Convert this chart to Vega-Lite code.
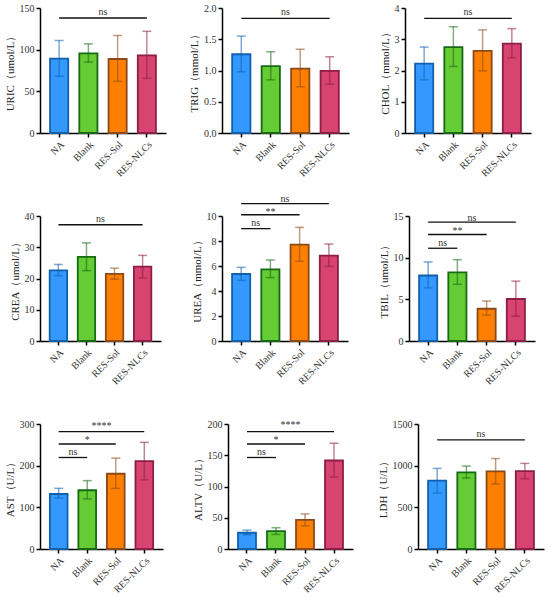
{
  "$schema": "https://vega.github.io/schema/vega-lite/v6.json",
  "padding": {"left": 4, "top": 3, "right": 5, "bottom": 5},
  "datasets": {
    "bars": [
      {"test": "URIC", "group": "NA", "mean": 89.2, "lo": 68, "hi": 111},
      {"test": "URIC", "group": "Blank", "mean": 95.5, "lo": 85, "hi": 107},
      {"test": "URIC", "group": "RES-Sol", "mean": 88.8, "lo": 62, "hi": 117},
      {"test": "URIC", "group": "RES-NLCs", "mean": 93.2, "lo": 65.6, "hi": 122},
      {"test": "TRIG", "group": "NA", "mean": 1.26, "lo": 0.98, "hi": 1.55},
      {"test": "TRIG", "group": "Blank", "mean": 1.07, "lo": 0.85, "hi": 1.3},
      {"test": "TRIG", "group": "RES-Sol", "mean": 1.03, "lo": 0.74, "hi": 1.34},
      {"test": "TRIG", "group": "RES-NLCs", "mean": 0.995, "lo": 0.78, "hi": 1.22},
      {"test": "CHOL", "group": "NA", "mean": 2.22, "lo": 1.7, "hi": 2.75},
      {"test": "CHOL", "group": "Blank", "mean": 2.75, "lo": 2.13, "hi": 3.4},
      {"test": "CHOL", "group": "RES-Sol", "mean": 2.63, "lo": 1.99, "hi": 3.3},
      {"test": "CHOL", "group": "RES-NLCs", "mean": 2.86, "lo": 2.4, "hi": 3.34},
      {"test": "CREA", "group": "NA", "mean": 22.6, "lo": 20.9, "hi": 24.5},
      {"test": "CREA", "group": "Blank", "mean": 26.9, "lo": 22.5, "hi": 31.4},
      {"test": "CREA", "group": "RES-Sol", "mean": 21.5, "lo": 19.8, "hi": 23.3},
      {"test": "CREA", "group": "RES-NLCs", "mean": 23.8, "lo": 20.2, "hi": 27.4},
      {"test": "UREA", "group": "NA", "mean": 5.36, "lo": 4.85, "hi": 5.89},
      {"test": "UREA", "group": "Blank", "mean": 5.73, "lo": 5.07, "hi": 6.48},
      {"test": "UREA", "group": "RES-Sol", "mean": 7.71, "lo": 6.37, "hi": 9.09},
      {"test": "UREA", "group": "RES-NLCs", "mean": 6.83, "lo": 5.97, "hi": 7.76},
      {"test": "TBIL", "group": "NA", "mean": 7.86, "lo": 6.37, "hi": 9.48},
      {"test": "TBIL", "group": "Blank", "mean": 8.23, "lo": 6.81, "hi": 9.76},
      {"test": "TBIL", "group": "RES-Sol", "mean": 3.87, "lo": 3.1, "hi": 4.8},
      {"test": "TBIL", "group": "RES-NLCs", "mean": 5.04, "lo": 2.98, "hi": 7.18},
      {"test": "AST", "group": "NA", "mean": 132, "lo": 122.5, "hi": 145.6},
      {"test": "AST", "group": "Blank", "mean": 141, "lo": 120, "hi": 164},
      {"test": "AST", "group": "RES-Sol", "mean": 180.6, "lo": 145.6, "hi": 218},
      {"test": "AST", "group": "RES-NLCs", "mean": 210.8, "lo": 166, "hi": 256},
      {"test": "ALTV", "group": "NA", "mean": 26, "lo": 22.8, "hi": 30.2},
      {"test": "ALTV", "group": "Blank", "mean": 28.6, "lo": 23.3, "hi": 34},
      {"test": "ALTV", "group": "RES-Sol", "mean": 46.7, "lo": 37.1, "hi": 56.2},
      {"test": "ALTV", "group": "RES-NLCs", "mean": 141.6, "lo": 115, "hi": 169.2},
      {"test": "LDH", "group": "NA", "mean": 820, "lo": 672, "hi": 967},
      {"test": "LDH", "group": "Blank", "mean": 919, "lo": 852, "hi": 995},
      {"test": "LDH", "group": "RES-Sol", "mean": 931, "lo": 780, "hi": 1086},
      {"test": "LDH", "group": "RES-NLCs", "mean": 935, "lo": 844, "hi": 1027}
    ],
    "sig": [
      {"test": "URIC", "a": "NA", "b": "RES-NLCs", "y": 138, "ty": 145, "label": "ns", "tx": "Blank", "gap": true},
      {"test": "TRIG", "a": "NA", "b": "RES-NLCs", "y": 1.834, "ty": 1.93, "label": "ns", "tx": "Blank", "gap": true},
      {"test": "CHOL", "a": "NA", "b": "RES-NLCs", "y": 3.67, "ty": 3.86, "label": "ns", "tx": "Blank", "gap": true},
      {"test": "CREA", "a": "NA", "b": "RES-NLCs", "y": 37.2, "ty": 38.9, "label": "ns", "tx": "Blank", "gap": true},
      {"test": "UREA", "a": "NA", "b": "Blank", "y": 8.99, "ty": 9.47, "label": "ns", "tx": "NA", "gap": true},
      {"test": "UREA", "a": "NA", "b": "RES-Sol", "y": 10.1, "ty": 10.29, "label": "**", "tx": "Blank", "gap": false},
      {"test": "UREA", "a": "NA", "b": "RES-NLCs", "y": 10.99, "ty": 11.33, "label": "ns", "tx": "Blank", "gap": true},
      {"test": "TBIL", "a": "NA", "b": "Blank", "y": 11.13, "ty": 11.81, "label": "ns", "tx": "NA", "gap": true},
      {"test": "TBIL", "a": "NA", "b": "RES-Sol", "y": 12.78, "ty": 13.2, "label": "**", "tx": "Blank", "gap": false},
      {"test": "TBIL", "a": "NA", "b": "RES-NLCs", "y": 14.27, "ty": 14.8, "label": "ns", "tx": "Blank", "gap": true},
      {"test": "AST", "a": "NA", "b": "Blank", "y": 219.6, "ty": 233, "label": "ns", "tx": "NA", "gap": true},
      {"test": "AST", "a": "NA", "b": "RES-Sol", "y": 252, "ty": 261.7, "label": "*", "tx": "Blank", "gap": false},
      {"test": "AST", "a": "NA", "b": "RES-NLCs", "y": 281.5, "ty": 296, "label": "****", "tx": "Blank", "gap": true},
      {"test": "ALTV", "a": "NA", "b": "Blank", "y": 146.4, "ty": 156, "label": "ns", "tx": "NA", "gap": true},
      {"test": "ALTV", "a": "NA", "b": "RES-Sol", "y": 168, "ty": 174, "label": "*", "tx": "Blank", "gap": false},
      {"test": "ALTV", "a": "NA", "b": "RES-NLCs", "y": 187.8, "ty": 197.9, "label": "****", "tx": "Blank", "gap": true},
      {"test": "LDH", "a": "NA", "b": "RES-NLCs", "y": 1309, "ty": 1385, "label": "ns", "tx": "Blank", "gap": true}
    ]
  },
  "bounds": "flush",
  "spacing": 208,
  "vconcat": [
    {
      "bounds": "flush",
      "spacing": 56,
      "hconcat": [
        {
          "width": 126, "height": 125,
          "layer": [
            {"data": {"name": "bars"}, "transform": [{"filter": "datum.test == 'URIC'"}], "mark": {"type": "bar", "strokeWidth": 1.8},
             "encoding": {
               "x": {"field": "group", "type": "nominal", "scale": {"domain": ["NA", "Blank", "RES-Sol", "RES-NLCs"]}, "axis": {"title": null}},
               "y": {"field": "mean", "type": "quantitative", "scale": {"domain": [0, 150], "nice": false}, "axis": {"title": "URIC（umol/L）", "values": [0, 50, 100, 150], "tickCount": 10, "format": "d"}},
               "fill": {"field": "group", "type": "nominal", "scale": {"domain": ["NA", "Blank", "RES-Sol", "RES-NLCs"], "range": ["#3399FF", "#66CC33", "#FF8000", "#D6446F"]}},
               "stroke": {"field": "group", "type": "nominal", "scale": {"domain": ["NA", "Blank", "RES-Sol", "RES-NLCs"], "range": ["#1160AD", "#166A16", "#8A4A1A", "#8E1E45"]}}}},
            {"data": {"name": "bars"}, "transform": [{"filter": "datum.test == 'URIC'"}], "mark": {"type": "rule", "strokeWidth": 1.5, "opacity": 0.55},
             "encoding": {"x": {"field": "group", "type": "nominal"}, "y": {"field": "lo", "type": "quantitative"}, "y2": {"field": "hi"},
               "color": {"field": "group", "type": "nominal", "scale": {"domain": ["NA", "Blank", "RES-Sol", "RES-NLCs"], "range": ["#1160AD", "#166A16", "#8A4A1A", "#8E1E45"]}}}},
            {"data": {"name": "bars"}, "transform": [{"filter": "datum.test == 'URIC'"}], "mark": {"type": "tick", "size": 9, "thickness": 1.5, "opacity": 0.55},
             "encoding": {"x": {"field": "group", "type": "nominal"}, "y": {"field": "hi", "type": "quantitative"}, "color": {"field": "group", "type": "nominal"}}},
            {"data": {"name": "bars"}, "transform": [{"filter": "datum.test == 'URIC'"}], "mark": {"type": "tick", "size": 9, "thickness": 1.5, "opacity": 0.55},
             "encoding": {"x": {"field": "group", "type": "nominal"}, "y": {"field": "lo", "type": "quantitative"}, "color": {"field": "group", "type": "nominal"}}},
            {"data": {"name": "sig"}, "transform": [{"filter": "datum.test == 'URIC'"}], "mark": {"type": "rule", "color": "#111", "strokeWidth": 1.3},
             "encoding": {"x": {"field": "a", "type": "nominal"}, "x2": {"field": "b"}, "y": {"field": "y", "type": "quantitative"}}},
            {"data": {"name": "sig"}, "transform": [{"filter": "datum.test == 'URIC' && !datum.gap"}], "mark": "text",
             "encoding": {"x": {"field": "tx", "type": "nominal"}, "y": {"field": "ty", "type": "quantitative"}, "text": {"field": "label"}}},
            {"data": {"name": "sig"}, "transform": [{"filter": "datum.test == 'URIC' && datum.gap"}], "mark": "text",
             "encoding": {"x": {"field": "tx", "type": "nominal", "bandPosition": 1.306}, "y": {"field": "ty", "type": "quantitative"}, "text": {"field": "label"}}}
          ]
        },
        {
          "width": 127, "height": 125,
          "layer": [
            {"data": {"name": "bars"}, "transform": [{"filter": "datum.test == 'TRIG'"}], "mark": {"type": "bar", "strokeWidth": 1.8},
             "encoding": {
               "x": {"field": "group", "type": "nominal", "scale": {"domain": ["NA", "Blank", "RES-Sol", "RES-NLCs"]}, "axis": {"title": null}},
               "y": {"field": "mean", "type": "quantitative", "scale": {"domain": [0, 2], "nice": false}, "axis": {"title": "TRIG（mmol/L）", "values": [0, 0.5, 1, 1.5, 2], "format": ".1f", "tickCount": 10}},
               "fill": {"field": "group", "type": "nominal", "scale": {"domain": ["NA", "Blank", "RES-Sol", "RES-NLCs"], "range": ["#3399FF", "#66CC33", "#FF8000", "#D6446F"]}},
               "stroke": {"field": "group", "type": "nominal", "scale": {"domain": ["NA", "Blank", "RES-Sol", "RES-NLCs"], "range": ["#1160AD", "#166A16", "#8A4A1A", "#8E1E45"]}}}},
            {"data": {"name": "bars"}, "transform": [{"filter": "datum.test == 'TRIG'"}], "mark": {"type": "rule", "strokeWidth": 1.5, "opacity": 0.55},
             "encoding": {"x": {"field": "group", "type": "nominal"}, "y": {"field": "lo", "type": "quantitative"}, "y2": {"field": "hi"},
               "color": {"field": "group", "type": "nominal", "scale": {"domain": ["NA", "Blank", "RES-Sol", "RES-NLCs"], "range": ["#1160AD", "#166A16", "#8A4A1A", "#8E1E45"]}}}},
            {"data": {"name": "bars"}, "transform": [{"filter": "datum.test == 'TRIG'"}], "mark": {"type": "tick", "size": 9, "thickness": 1.5, "opacity": 0.55},
             "encoding": {"x": {"field": "group", "type": "nominal"}, "y": {"field": "hi", "type": "quantitative"}, "color": {"field": "group", "type": "nominal"}}},
            {"data": {"name": "bars"}, "transform": [{"filter": "datum.test == 'TRIG'"}], "mark": {"type": "tick", "size": 9, "thickness": 1.5, "opacity": 0.55},
             "encoding": {"x": {"field": "group", "type": "nominal"}, "y": {"field": "lo", "type": "quantitative"}, "color": {"field": "group", "type": "nominal"}}},
            {"data": {"name": "sig"}, "transform": [{"filter": "datum.test == 'TRIG'"}], "mark": {"type": "rule", "color": "#111", "strokeWidth": 1.3},
             "encoding": {"x": {"field": "a", "type": "nominal"}, "x2": {"field": "b"}, "y": {"field": "y", "type": "quantitative"}}},
            {"data": {"name": "sig"}, "transform": [{"filter": "datum.test == 'TRIG' && !datum.gap"}], "mark": "text",
             "encoding": {"x": {"field": "tx", "type": "nominal"}, "y": {"field": "ty", "type": "quantitative"}, "text": {"field": "label"}}},
            {"data": {"name": "sig"}, "transform": [{"filter": "datum.test == 'TRIG' && datum.gap"}], "mark": "text",
             "encoding": {"x": {"field": "tx", "type": "nominal", "bandPosition": 1.306}, "y": {"field": "ty", "type": "quantitative"}, "text": {"field": "label"}}}
          ]
        },
        {
          "width": 126, "height": 125,
          "layer": [
            {"data": {"name": "bars"}, "transform": [{"filter": "datum.test == 'CHOL'"}], "mark": {"type": "bar", "strokeWidth": 1.8},
             "encoding": {
               "x": {"field": "group", "type": "nominal", "scale": {"domain": ["NA", "Blank", "RES-Sol", "RES-NLCs"]}, "axis": {"title": null}},
               "y": {"field": "mean", "type": "quantitative", "scale": {"domain": [0, 4], "nice": false}, "axis": {"title": "CHOL（mmol/L）", "values": [0, 1, 2, 3, 4], "tickCount": 10, "format": "d"}},
               "fill": {"field": "group", "type": "nominal", "scale": {"domain": ["NA", "Blank", "RES-Sol", "RES-NLCs"], "range": ["#3399FF", "#66CC33", "#FF8000", "#D6446F"]}},
               "stroke": {"field": "group", "type": "nominal", "scale": {"domain": ["NA", "Blank", "RES-Sol", "RES-NLCs"], "range": ["#1160AD", "#166A16", "#8A4A1A", "#8E1E45"]}}}},
            {"data": {"name": "bars"}, "transform": [{"filter": "datum.test == 'CHOL'"}], "mark": {"type": "rule", "strokeWidth": 1.5, "opacity": 0.55},
             "encoding": {"x": {"field": "group", "type": "nominal"}, "y": {"field": "lo", "type": "quantitative"}, "y2": {"field": "hi"},
               "color": {"field": "group", "type": "nominal", "scale": {"domain": ["NA", "Blank", "RES-Sol", "RES-NLCs"], "range": ["#1160AD", "#166A16", "#8A4A1A", "#8E1E45"]}}}},
            {"data": {"name": "bars"}, "transform": [{"filter": "datum.test == 'CHOL'"}], "mark": {"type": "tick", "size": 9, "thickness": 1.5, "opacity": 0.55},
             "encoding": {"x": {"field": "group", "type": "nominal"}, "y": {"field": "hi", "type": "quantitative"}, "color": {"field": "group", "type": "nominal"}}},
            {"data": {"name": "bars"}, "transform": [{"filter": "datum.test == 'CHOL'"}], "mark": {"type": "tick", "size": 9, "thickness": 1.5, "opacity": 0.55},
             "encoding": {"x": {"field": "group", "type": "nominal"}, "y": {"field": "lo", "type": "quantitative"}, "color": {"field": "group", "type": "nominal"}}},
            {"data": {"name": "sig"}, "transform": [{"filter": "datum.test == 'CHOL'"}], "mark": {"type": "rule", "color": "#111", "strokeWidth": 1.3},
             "encoding": {"x": {"field": "a", "type": "nominal"}, "x2": {"field": "b"}, "y": {"field": "y", "type": "quantitative"}}},
            {"data": {"name": "sig"}, "transform": [{"filter": "datum.test == 'CHOL' && !datum.gap"}], "mark": "text",
             "encoding": {"x": {"field": "tx", "type": "nominal"}, "y": {"field": "ty", "type": "quantitative"}, "text": {"field": "label"}}},
            {"data": {"name": "sig"}, "transform": [{"filter": "datum.test == 'CHOL' && datum.gap"}], "mark": "text",
             "encoding": {"x": {"field": "tx", "type": "nominal", "bandPosition": 1.306}, "y": {"field": "ty", "type": "quantitative"}, "text": {"field": "label"}}}
          ]
        }
      ]
    },
    {
      "bounds": "flush",
      "spacing": 61,
      "hconcat": [
        {
          "width": 121, "height": 125,
          "layer": [
            {"data": {"name": "bars"}, "transform": [{"filter": "datum.test == 'CREA'"}], "mark": {"type": "bar", "strokeWidth": 1.8},
             "encoding": {
               "x": {"field": "group", "type": "nominal", "scale": {"domain": ["NA", "Blank", "RES-Sol", "RES-NLCs"]}, "axis": {"title": null}},
               "y": {"field": "mean", "type": "quantitative", "scale": {"domain": [0, 40], "nice": false}, "axis": {"title": "CREA（umol/L）", "values": [0, 10, 20, 30, 40], "tickCount": 10, "format": "d"}},
               "fill": {"field": "group", "type": "nominal", "scale": {"domain": ["NA", "Blank", "RES-Sol", "RES-NLCs"], "range": ["#3399FF", "#66CC33", "#FF8000", "#D6446F"]}},
               "stroke": {"field": "group", "type": "nominal", "scale": {"domain": ["NA", "Blank", "RES-Sol", "RES-NLCs"], "range": ["#1160AD", "#166A16", "#8A4A1A", "#8E1E45"]}}}},
            {"data": {"name": "bars"}, "transform": [{"filter": "datum.test == 'CREA'"}], "mark": {"type": "rule", "strokeWidth": 1.5, "opacity": 0.55},
             "encoding": {"x": {"field": "group", "type": "nominal"}, "y": {"field": "lo", "type": "quantitative"}, "y2": {"field": "hi"},
               "color": {"field": "group", "type": "nominal", "scale": {"domain": ["NA", "Blank", "RES-Sol", "RES-NLCs"], "range": ["#1160AD", "#166A16", "#8A4A1A", "#8E1E45"]}}}},
            {"data": {"name": "bars"}, "transform": [{"filter": "datum.test == 'CREA'"}], "mark": {"type": "tick", "size": 9, "thickness": 1.5, "opacity": 0.55},
             "encoding": {"x": {"field": "group", "type": "nominal"}, "y": {"field": "hi", "type": "quantitative"}, "color": {"field": "group", "type": "nominal"}}},
            {"data": {"name": "bars"}, "transform": [{"filter": "datum.test == 'CREA'"}], "mark": {"type": "tick", "size": 9, "thickness": 1.5, "opacity": 0.55},
             "encoding": {"x": {"field": "group", "type": "nominal"}, "y": {"field": "lo", "type": "quantitative"}, "color": {"field": "group", "type": "nominal"}}},
            {"data": {"name": "sig"}, "transform": [{"filter": "datum.test == 'CREA'"}], "mark": {"type": "rule", "color": "#111", "strokeWidth": 1.3},
             "encoding": {"x": {"field": "a", "type": "nominal"}, "x2": {"field": "b"}, "y": {"field": "y", "type": "quantitative"}}},
            {"data": {"name": "sig"}, "transform": [{"filter": "datum.test == 'CREA' && !datum.gap"}], "mark": "text",
             "encoding": {"x": {"field": "tx", "type": "nominal"}, "y": {"field": "ty", "type": "quantitative"}, "text": {"field": "label"}}},
            {"data": {"name": "sig"}, "transform": [{"filter": "datum.test == 'CREA' && datum.gap"}], "mark": "text",
             "encoding": {"x": {"field": "tx", "type": "nominal", "bandPosition": 1.306}, "y": {"field": "ty", "type": "quantitative"}, "text": {"field": "label"}}}
          ]
        },
        {
          "width": 126, "height": 125,
          "layer": [
            {"data": {"name": "bars"}, "transform": [{"filter": "datum.test == 'UREA'"}], "mark": {"type": "bar", "strokeWidth": 1.8},
             "encoding": {
               "x": {"field": "group", "type": "nominal", "scale": {"domain": ["NA", "Blank", "RES-Sol", "RES-NLCs"]}, "axis": {"title": null}},
               "y": {"field": "mean", "type": "quantitative", "scale": {"domain": [0, 10], "nice": false}, "axis": {"title": "UREA（mmol/L）", "values": [0, 2, 4, 6, 8, 10], "tickCount": 10, "format": "d"}},
               "fill": {"field": "group", "type": "nominal", "scale": {"domain": ["NA", "Blank", "RES-Sol", "RES-NLCs"], "range": ["#3399FF", "#66CC33", "#FF8000", "#D6446F"]}},
               "stroke": {"field": "group", "type": "nominal", "scale": {"domain": ["NA", "Blank", "RES-Sol", "RES-NLCs"], "range": ["#1160AD", "#166A16", "#8A4A1A", "#8E1E45"]}}}},
            {"data": {"name": "bars"}, "transform": [{"filter": "datum.test == 'UREA'"}], "mark": {"type": "rule", "strokeWidth": 1.5, "opacity": 0.55},
             "encoding": {"x": {"field": "group", "type": "nominal"}, "y": {"field": "lo", "type": "quantitative"}, "y2": {"field": "hi"},
               "color": {"field": "group", "type": "nominal", "scale": {"domain": ["NA", "Blank", "RES-Sol", "RES-NLCs"], "range": ["#1160AD", "#166A16", "#8A4A1A", "#8E1E45"]}}}},
            {"data": {"name": "bars"}, "transform": [{"filter": "datum.test == 'UREA'"}], "mark": {"type": "tick", "size": 9, "thickness": 1.5, "opacity": 0.55},
             "encoding": {"x": {"field": "group", "type": "nominal"}, "y": {"field": "hi", "type": "quantitative"}, "color": {"field": "group", "type": "nominal"}}},
            {"data": {"name": "bars"}, "transform": [{"filter": "datum.test == 'UREA'"}], "mark": {"type": "tick", "size": 9, "thickness": 1.5, "opacity": 0.55},
             "encoding": {"x": {"field": "group", "type": "nominal"}, "y": {"field": "lo", "type": "quantitative"}, "color": {"field": "group", "type": "nominal"}}},
            {"data": {"name": "sig"}, "transform": [{"filter": "datum.test == 'UREA'"}], "mark": {"type": "rule", "color": "#111", "strokeWidth": 1.3},
             "encoding": {"x": {"field": "a", "type": "nominal"}, "x2": {"field": "b"}, "y": {"field": "y", "type": "quantitative"}}},
            {"data": {"name": "sig"}, "transform": [{"filter": "datum.test == 'UREA' && !datum.gap"}], "mark": "text",
             "encoding": {"x": {"field": "tx", "type": "nominal"}, "y": {"field": "ty", "type": "quantitative"}, "text": {"field": "label"}}},
            {"data": {"name": "sig"}, "transform": [{"filter": "datum.test == 'UREA' && datum.gap"}], "mark": "text",
             "encoding": {"x": {"field": "tx", "type": "nominal", "bandPosition": 1.306}, "y": {"field": "ty", "type": "quantitative"}, "text": {"field": "label"}}}
          ]
        },
        {
          "width": 126, "height": 125,
          "layer": [
            {"data": {"name": "bars"}, "transform": [{"filter": "datum.test == 'TBIL'"}], "mark": {"type": "bar", "strokeWidth": 1.8},
             "encoding": {
               "x": {"field": "group", "type": "nominal", "scale": {"domain": ["NA", "Blank", "RES-Sol", "RES-NLCs"]}, "axis": {"title": null}},
               "y": {"field": "mean", "type": "quantitative", "scale": {"domain": [0, 15], "nice": false}, "axis": {"title": "TBIL（umol/L）", "values": [0, 5, 10, 15], "tickCount": 10, "format": "d"}},
               "fill": {"field": "group", "type": "nominal", "scale": {"domain": ["NA", "Blank", "RES-Sol", "RES-NLCs"], "range": ["#3399FF", "#66CC33", "#FF8000", "#D6446F"]}},
               "stroke": {"field": "group", "type": "nominal", "scale": {"domain": ["NA", "Blank", "RES-Sol", "RES-NLCs"], "range": ["#1160AD", "#166A16", "#8A4A1A", "#8E1E45"]}}}},
            {"data": {"name": "bars"}, "transform": [{"filter": "datum.test == 'TBIL'"}], "mark": {"type": "rule", "strokeWidth": 1.5, "opacity": 0.55},
             "encoding": {"x": {"field": "group", "type": "nominal"}, "y": {"field": "lo", "type": "quantitative"}, "y2": {"field": "hi"},
               "color": {"field": "group", "type": "nominal", "scale": {"domain": ["NA", "Blank", "RES-Sol", "RES-NLCs"], "range": ["#1160AD", "#166A16", "#8A4A1A", "#8E1E45"]}}}},
            {"data": {"name": "bars"}, "transform": [{"filter": "datum.test == 'TBIL'"}], "mark": {"type": "tick", "size": 9, "thickness": 1.5, "opacity": 0.55},
             "encoding": {"x": {"field": "group", "type": "nominal"}, "y": {"field": "hi", "type": "quantitative"}, "color": {"field": "group", "type": "nominal"}}},
            {"data": {"name": "bars"}, "transform": [{"filter": "datum.test == 'TBIL'"}], "mark": {"type": "tick", "size": 9, "thickness": 1.5, "opacity": 0.55},
             "encoding": {"x": {"field": "group", "type": "nominal"}, "y": {"field": "lo", "type": "quantitative"}, "color": {"field": "group", "type": "nominal"}}},
            {"data": {"name": "sig"}, "transform": [{"filter": "datum.test == 'TBIL'"}], "mark": {"type": "rule", "color": "#111", "strokeWidth": 1.3},
             "encoding": {"x": {"field": "a", "type": "nominal"}, "x2": {"field": "b"}, "y": {"field": "y", "type": "quantitative"}}},
            {"data": {"name": "sig"}, "transform": [{"filter": "datum.test == 'TBIL' && !datum.gap"}], "mark": "text",
             "encoding": {"x": {"field": "tx", "type": "nominal"}, "y": {"field": "ty", "type": "quantitative"}, "text": {"field": "label"}}},
            {"data": {"name": "sig"}, "transform": [{"filter": "datum.test == 'TBIL' && datum.gap"}], "mark": "text",
             "encoding": {"x": {"field": "tx", "type": "nominal", "bandPosition": 1.306}, "y": {"field": "ty", "type": "quantitative"}, "text": {"field": "label"}}}
          ]
        }
      ]
    },
    {
      "bounds": "flush",
      "spacing": 65,
      "hconcat": [
        {
          "width": 123, "height": 125,
          "layer": [
            {"data": {"name": "bars"}, "transform": [{"filter": "datum.test == 'AST'"}], "mark": {"type": "bar", "strokeWidth": 1.8},
             "encoding": {
               "x": {"field": "group", "type": "nominal", "scale": {"domain": ["NA", "Blank", "RES-Sol", "RES-NLCs"]}, "axis": {"title": null}},
               "y": {"field": "mean", "type": "quantitative", "scale": {"domain": [0, 300], "nice": false}, "axis": {"title": "AST（U/L）", "values": [0, 100, 200, 300], "tickCount": 10, "format": "d"}},
               "fill": {"field": "group", "type": "nominal", "scale": {"domain": ["NA", "Blank", "RES-Sol", "RES-NLCs"], "range": ["#3399FF", "#66CC33", "#FF8000", "#D6446F"]}},
               "stroke": {"field": "group", "type": "nominal", "scale": {"domain": ["NA", "Blank", "RES-Sol", "RES-NLCs"], "range": ["#1160AD", "#166A16", "#8A4A1A", "#8E1E45"]}}}},
            {"data": {"name": "bars"}, "transform": [{"filter": "datum.test == 'AST'"}], "mark": {"type": "rule", "strokeWidth": 1.5, "opacity": 0.55},
             "encoding": {"x": {"field": "group", "type": "nominal"}, "y": {"field": "lo", "type": "quantitative"}, "y2": {"field": "hi"},
               "color": {"field": "group", "type": "nominal", "scale": {"domain": ["NA", "Blank", "RES-Sol", "RES-NLCs"], "range": ["#1160AD", "#166A16", "#8A4A1A", "#8E1E45"]}}}},
            {"data": {"name": "bars"}, "transform": [{"filter": "datum.test == 'AST'"}], "mark": {"type": "tick", "size": 9, "thickness": 1.5, "opacity": 0.55},
             "encoding": {"x": {"field": "group", "type": "nominal"}, "y": {"field": "hi", "type": "quantitative"}, "color": {"field": "group", "type": "nominal"}}},
            {"data": {"name": "bars"}, "transform": [{"filter": "datum.test == 'AST'"}], "mark": {"type": "tick", "size": 9, "thickness": 1.5, "opacity": 0.55},
             "encoding": {"x": {"field": "group", "type": "nominal"}, "y": {"field": "lo", "type": "quantitative"}, "color": {"field": "group", "type": "nominal"}}},
            {"data": {"name": "sig"}, "transform": [{"filter": "datum.test == 'AST'"}], "mark": {"type": "rule", "color": "#111", "strokeWidth": 1.3},
             "encoding": {"x": {"field": "a", "type": "nominal"}, "x2": {"field": "b"}, "y": {"field": "y", "type": "quantitative"}}},
            {"data": {"name": "sig"}, "transform": [{"filter": "datum.test == 'AST' && !datum.gap"}], "mark": "text",
             "encoding": {"x": {"field": "tx", "type": "nominal"}, "y": {"field": "ty", "type": "quantitative"}, "text": {"field": "label"}}},
            {"data": {"name": "sig"}, "transform": [{"filter": "datum.test == 'AST' && datum.gap"}], "mark": "text",
             "encoding": {"x": {"field": "tx", "type": "nominal", "bandPosition": 1.306}, "y": {"field": "ty", "type": "quantitative"}, "text": {"field": "label"}}}
          ]
        },
        {
          "width": 125, "height": 125,
          "layer": [
            {"data": {"name": "bars"}, "transform": [{"filter": "datum.test == 'ALTV'"}], "mark": {"type": "bar", "strokeWidth": 1.8},
             "encoding": {
               "x": {"field": "group", "type": "nominal", "scale": {"domain": ["NA", "Blank", "RES-Sol", "RES-NLCs"]}, "axis": {"title": null}},
               "y": {"field": "mean", "type": "quantitative", "scale": {"domain": [0, 200], "nice": false}, "axis": {"title": "ALTV（U/L）", "values": [0, 50, 100, 150, 200], "tickCount": 10, "format": "d"}},
               "fill": {"field": "group", "type": "nominal", "scale": {"domain": ["NA", "Blank", "RES-Sol", "RES-NLCs"], "range": ["#3399FF", "#66CC33", "#FF8000", "#D6446F"]}},
               "stroke": {"field": "group", "type": "nominal", "scale": {"domain": ["NA", "Blank", "RES-Sol", "RES-NLCs"], "range": ["#1160AD", "#166A16", "#8A4A1A", "#8E1E45"]}}}},
            {"data": {"name": "bars"}, "transform": [{"filter": "datum.test == 'ALTV'"}], "mark": {"type": "rule", "strokeWidth": 1.5, "opacity": 0.55},
             "encoding": {"x": {"field": "group", "type": "nominal"}, "y": {"field": "lo", "type": "quantitative"}, "y2": {"field": "hi"},
               "color": {"field": "group", "type": "nominal", "scale": {"domain": ["NA", "Blank", "RES-Sol", "RES-NLCs"], "range": ["#1160AD", "#166A16", "#8A4A1A", "#8E1E45"]}}}},
            {"data": {"name": "bars"}, "transform": [{"filter": "datum.test == 'ALTV'"}], "mark": {"type": "tick", "size": 9, "thickness": 1.5, "opacity": 0.55},
             "encoding": {"x": {"field": "group", "type": "nominal"}, "y": {"field": "hi", "type": "quantitative"}, "color": {"field": "group", "type": "nominal"}}},
            {"data": {"name": "bars"}, "transform": [{"filter": "datum.test == 'ALTV'"}], "mark": {"type": "tick", "size": 9, "thickness": 1.5, "opacity": 0.55},
             "encoding": {"x": {"field": "group", "type": "nominal"}, "y": {"field": "lo", "type": "quantitative"}, "color": {"field": "group", "type": "nominal"}}},
            {"data": {"name": "sig"}, "transform": [{"filter": "datum.test == 'ALTV'"}], "mark": {"type": "rule", "color": "#111", "strokeWidth": 1.3},
             "encoding": {"x": {"field": "a", "type": "nominal"}, "x2": {"field": "b"}, "y": {"field": "y", "type": "quantitative"}}},
            {"data": {"name": "sig"}, "transform": [{"filter": "datum.test == 'ALTV' && !datum.gap"}], "mark": "text",
             "encoding": {"x": {"field": "tx", "type": "nominal"}, "y": {"field": "ty", "type": "quantitative"}, "text": {"field": "label"}}},
            {"data": {"name": "sig"}, "transform": [{"filter": "datum.test == 'ALTV' && datum.gap"}], "mark": "text",
             "encoding": {"x": {"field": "tx", "type": "nominal", "bandPosition": 1.306}, "y": {"field": "ty", "type": "quantitative"}, "text": {"field": "label"}}}
          ]
        },
        {
          "width": 126, "height": 125,
          "layer": [
            {"data": {"name": "bars"}, "transform": [{"filter": "datum.test == 'LDH'"}], "mark": {"type": "bar", "strokeWidth": 1.8},
             "encoding": {
               "x": {"field": "group", "type": "nominal", "scale": {"domain": ["NA", "Blank", "RES-Sol", "RES-NLCs"]}, "axis": {"title": null}},
               "y": {"field": "mean", "type": "quantitative", "scale": {"domain": [0, 1500], "nice": false}, "axis": {"title": "LDH（U/L）", "values": [0, 500, 1000, 1500], "format": "d", "tickCount": 10}},
               "fill": {"field": "group", "type": "nominal", "scale": {"domain": ["NA", "Blank", "RES-Sol", "RES-NLCs"], "range": ["#3399FF", "#66CC33", "#FF8000", "#D6446F"]}},
               "stroke": {"field": "group", "type": "nominal", "scale": {"domain": ["NA", "Blank", "RES-Sol", "RES-NLCs"], "range": ["#1160AD", "#166A16", "#8A4A1A", "#8E1E45"]}}}},
            {"data": {"name": "bars"}, "transform": [{"filter": "datum.test == 'LDH'"}], "mark": {"type": "rule", "strokeWidth": 1.5, "opacity": 0.55},
             "encoding": {"x": {"field": "group", "type": "nominal"}, "y": {"field": "lo", "type": "quantitative"}, "y2": {"field": "hi"},
               "color": {"field": "group", "type": "nominal", "scale": {"domain": ["NA", "Blank", "RES-Sol", "RES-NLCs"], "range": ["#1160AD", "#166A16", "#8A4A1A", "#8E1E45"]}}}},
            {"data": {"name": "bars"}, "transform": [{"filter": "datum.test == 'LDH'"}], "mark": {"type": "tick", "size": 9, "thickness": 1.5, "opacity": 0.55},
             "encoding": {"x": {"field": "group", "type": "nominal"}, "y": {"field": "hi", "type": "quantitative"}, "color": {"field": "group", "type": "nominal"}}},
            {"data": {"name": "bars"}, "transform": [{"filter": "datum.test == 'LDH'"}], "mark": {"type": "tick", "size": 9, "thickness": 1.5, "opacity": 0.55},
             "encoding": {"x": {"field": "group", "type": "nominal"}, "y": {"field": "lo", "type": "quantitative"}, "color": {"field": "group", "type": "nominal"}}},
            {"data": {"name": "sig"}, "transform": [{"filter": "datum.test == 'LDH'"}], "mark": {"type": "rule", "color": "#111", "strokeWidth": 1.3},
             "encoding": {"x": {"field": "a", "type": "nominal"}, "x2": {"field": "b"}, "y": {"field": "y", "type": "quantitative"}}},
            {"data": {"name": "sig"}, "transform": [{"filter": "datum.test == 'LDH' && !datum.gap"}], "mark": "text",
             "encoding": {"x": {"field": "tx", "type": "nominal"}, "y": {"field": "ty", "type": "quantitative"}, "text": {"field": "label"}}},
            {"data": {"name": "sig"}, "transform": [{"filter": "datum.test == 'LDH' && datum.gap"}], "mark": "text",
             "encoding": {"x": {"field": "tx", "type": "nominal", "bandPosition": 1.306}, "y": {"field": "ty", "type": "quantitative"}, "text": {"field": "label"}}}
          ]
        }
      ]
    }
  ],
  "config": {
    "view": {"stroke": null},
    "font": "Liberation Serif",
    "axis": {
      "grid": false,
      "domainColor": "#000", "domainWidth": 1.5,
      "tickColor": "#000", "tickWidth": 1.5, "tickSize": 4,
      "labelFont": "Liberation Serif", "labelFontSize": 10, "labelColor": "#333", "labelPadding": 2,
      "titleFont": "Liberation Serif", "titleFontSize": 11, "titleFontWeight": "normal", "titleColor": "#222"
    },
    "axisX": {"labelAngle": -45},
    "axisY": {"titlePadding": 4},
    "scale": {"bandPaddingInner": 0.38, "bandPaddingOuter": 0.345},
    "legend": {"disable": true},
    "text": {"font": "Liberation Serif", "fontSize": 10, "color": "#333", "baseline": "middle"}
  }
}
